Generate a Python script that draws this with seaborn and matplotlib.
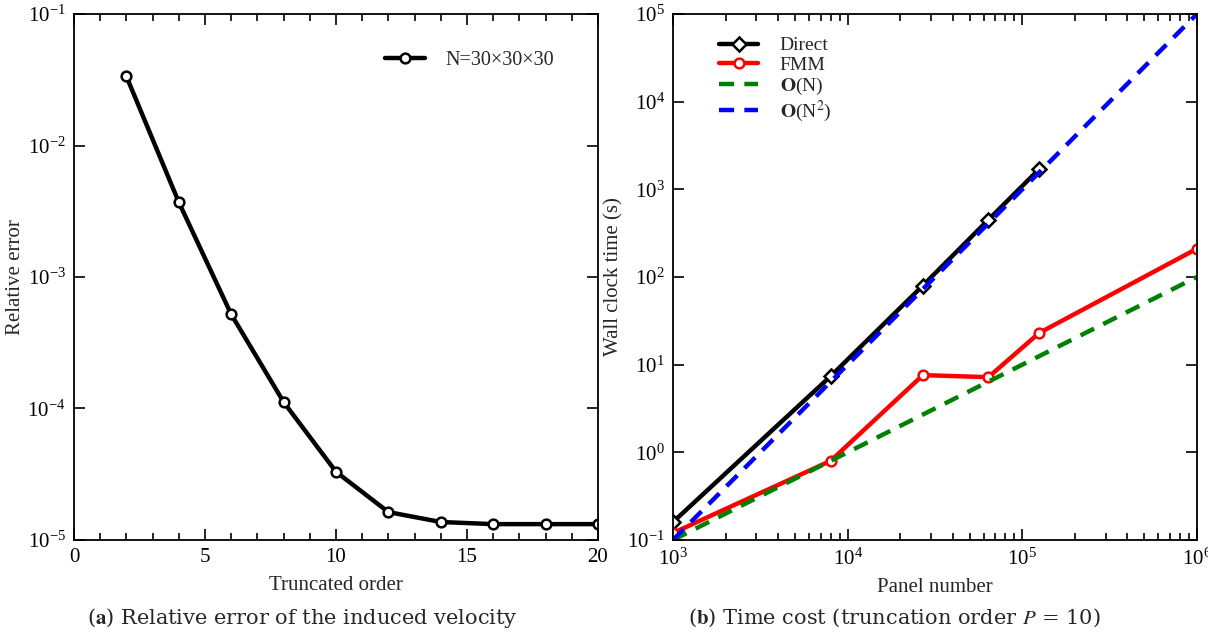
import numpy as np
import pandas as pd
import matplotlib
matplotlib.use("Agg")
import matplotlib.pyplot as plt
import matplotlib.ticker as mticker
import seaborn as sns

# ---- data ----
orders = [2, 4, 6, 8, 10, 12, 14, 16, 18, 20]
rel_error = [3.35e-2, 3.7e-3, 5.2e-4, 1.12e-4, 3.3e-5, 1.63e-5, 1.37e-5, 1.32e-5, 1.32e-5, 1.32e-5]

panels_direct = [1e3, 8e3, 2.7e4, 6.4e4, 1.25e5]
time_direct = [0.16, 7.4, 80, 450, 1700]
panels_fmm = [1e3, 8e3, 2.7e4, 6.4e4, 1.25e5, 1e6]
time_fmm = [0.12, 0.8, 7.6, 7.2, 23, 210]
panels_ref = [1e3, 1e6]
time_on = [0.1, 100]
time_on2 = [0.1, 1e5]

sns.set_theme(style="ticks")
plt.rcParams["font.family"] = ["Liberation Serif", "DejaVu Serif"]
plt.rcParams["mathtext.fontset"] = "stix"
plt.rcParams["xtick.direction"] = "in"
plt.rcParams["ytick.direction"] = "in"
plt.rcParams["axes.linewidth"] = 1.3
plt.rcParams["axes.edgecolor"] = "black"

fig = plt.figure(figsize=(12.08, 6.32), dpi=100)
ax1 = fig.add_axes([0.0613, 0.1456, 0.4337, 0.8322])
ax2 = fig.add_axes([0.5571, 0.1456, 0.4337, 0.8322])

# ---- (a) relative error ----
df_a = pd.DataFrame({"order": orders, "err": rel_error})
sns.lineplot(data=df_a, x="order", y="err", ax=ax1, color="black", lw=3.2,
             marker="o", markersize=7, markerfacecolor="white",
             markeredgecolor="black", markeredgewidth=1.8,
             label="N=30×30×30", sort=False)
ax1.set_yscale("log")
ax1.set_xlim(0, 20)
ax1.set_ylim(1e-5, 1e-1)
ax1.xaxis.set_major_locator(mticker.MultipleLocator(5))
ax1.xaxis.set_minor_locator(mticker.MultipleLocator(1))
ax1.yaxis.set_minor_locator(mticker.NullLocator())
ax1.set_xlabel("Truncated order", fontsize=15, labelpad=6)
ax1.set_ylabel("Relative error", fontsize=15)
ax1.legend(loc="upper right", frameon=False, fontsize=14.5, handlelength=2.0,
           handletextpad=1.0, bbox_to_anchor=(0.95, 0.965))

# ---- (b) time cost ----
df_d = pd.DataFrame({"N": panels_direct, "t": time_direct})
df_f = pd.DataFrame({"N": panels_fmm, "t": time_fmm})
df_r = pd.DataFrame({"N": panels_ref, "on": time_on, "on2": time_on2})

sns.lineplot(data=df_d, x="N", y="t", ax=ax2, color="black", lw=3.2,
             marker="D", markersize=7, markerfacecolor="white",
             markeredgecolor="black", markeredgewidth=1.8, label="Direct", sort=False)
sns.lineplot(data=df_f, x="N", y="t", ax=ax2, color="red", lw=3.2,
             marker="o", markersize=7, markerfacecolor="white",
             markeredgecolor="red", markeredgewidth=1.8, label="FMM", sort=False)
sns.lineplot(data=df_r, x="N", y="on", ax=ax2, color="green", lw=3.2,
             label=r"$\mathbf{O}$(N)", sort=False)
sns.lineplot(data=df_r, x="N", y="on2", ax=ax2, color="blue", lw=3.2,
             label=r"$\mathbf{O}$(N$^2$)", sort=False)
for ln in ax2.get_lines()[2:4]:
    ln.set_dashes([3.4, 2.3])
ax2.set_xscale("log")
ax2.set_yscale("log")
ax2.set_xlim(1e3, 1e6)
ax2.set_ylim(1e-1, 1e5)
ax2.xaxis.set_minor_locator(mticker.LogLocator(base=10, subs=np.arange(2, 10), numticks=20))
ax2.xaxis.set_minor_formatter(mticker.NullFormatter())
ax2.yaxis.set_minor_locator(mticker.NullLocator())
ax2.set_xlabel("Panel number", fontsize=15, labelpad=6)
ax2.set_ylabel("Wall clock time (s)", fontsize=15)
leg = ax2.legend(loc="upper left", frameon=False, fontsize=14, handlelength=2.0,
                 handletextpad=1.1, labelspacing=0.1, bbox_to_anchor=(0.055, 0.99))
for h in leg.legend_handles[2:4]:
    h.set_dashes([3.4, 2.3])

for ax in (ax1, ax2):
    ax.tick_params(which="both", top=True, right=True, labelsize=15, colors="black")
    ax.tick_params(which="major", length=8, width=1.2, pad=6)
    ax.tick_params(which="minor", length=5, width=1.2)
    ax.yaxis.set_label_coords(-0.094, 0.5)
    for s in ax.spines.values():
        s.set_visible(True)
        s.set_color("black")

fig.text(0.25, 0.022, r"($\mathbf{a}$) Relative error of the induced velocity",
         ha="center", va="center", fontsize=15, family="DejaVu Serif")
fig.text(0.74, 0.022, r"($\mathbf{b}$) Time cost (truncation order $P$ = 10)",
         ha="center", va="center", fontsize=15, family="DejaVu Serif")

fig.savefig("out.png", dpi=100)
